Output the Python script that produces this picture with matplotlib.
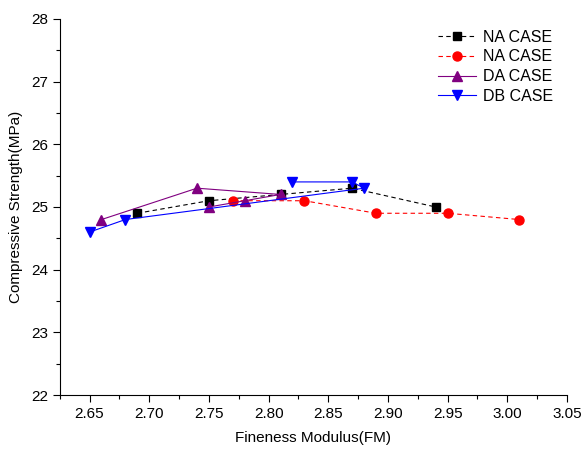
import matplotlib
matplotlib.use('Agg')
import matplotlib.pyplot as plt
from matplotlib.ticker import MultipleLocator

plt.rcParams['font.family'] = ['Liberation Sans', 'DejaVu Sans']

# data
na1_fm = [2.69, 2.75, 2.81, 2.87, 2.94]
na1_cs = [24.9, 25.1, 25.2, 25.3, 25.0]

na2_fm = [2.77, 2.83, 2.89, 2.95, 3.01]
na2_cs = [25.1, 25.1, 24.9, 24.9, 24.8]

da_fm = [2.66, 2.74, 2.81, 2.78, 2.75]
da_cs = [24.8, 25.3, 25.2, 25.1, 25.0]

db_fm = [2.65, 2.68, 2.88, 2.87, 2.82]
db_cs = [24.6, 24.8, 25.3, 25.4, 25.4]

fig = plt.figure(figsize=(5.83, 4.5), dpi=100)
ax = fig.add_axes([0.1024, 0.122, 0.8702, 0.836])

ax.plot(na1_fm, na1_cs, ls='--', color='black', lw=0.8, marker='s', ms=5.5,
        dashes=(4, 3), label='NA CASE')
ax.plot(na2_fm, na2_cs, ls='--', color='red', lw=0.8, marker='o', ms=6.5,
        dashes=(4, 3), label='NA CASE')
ax.plot(da_fm, da_cs, ls='-', color='purple', lw=0.8, marker='^', ms=6.5,
        label='DA CASE')
ax.plot(db_fm, db_cs, ls='-', color='blue', lw=0.8, marker='v', ms=6.5,
        label='DB CASE')

ax.set_xlim(2.625, 3.05)
ax.set_ylim(22, 28)
ax.xaxis.set_major_locator(MultipleLocator(0.05))
ax.xaxis.set_minor_locator(MultipleLocator(0.025))
ax.yaxis.set_major_locator(MultipleLocator(1))
ax.yaxis.set_minor_locator(MultipleLocator(0.5))
ax.xaxis.set_major_formatter(matplotlib.ticker.FormatStrFormatter('%.2f'))

ax.spines['top'].set_visible(False)
ax.spines['right'].set_visible(False)
ax.tick_params(which='major', direction='out', length=5, width=0.8, labelsize=11, colors='black')
ax.tick_params(which='minor', direction='out', length=3, width=0.8)

ax.set_xlabel('Fineness Modulus(FM)', fontsize=11, labelpad=7)
ax.set_ylabel('Compressive Strength(MPa)', fontsize=11, labelpad=6)

ax.legend(loc='upper right', bbox_to_anchor=(1.0, 1.01), frameon=False,
          fontsize=11.5, handlelength=2.4, labelspacing=0.3, handletextpad=0.4)

plt.savefig('out.png', dpi=100)
